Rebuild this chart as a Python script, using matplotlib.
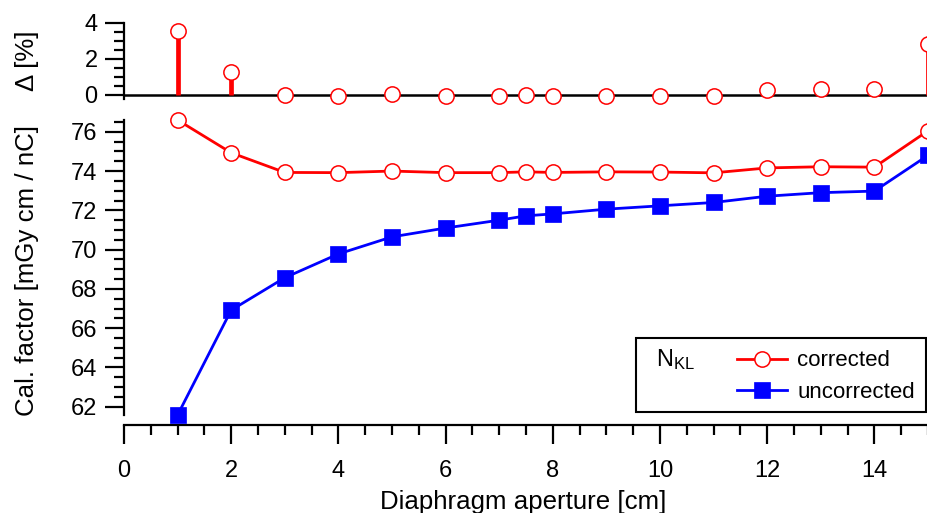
import matplotlib
matplotlib.use("Agg")
import matplotlib.pyplot as plt
from matplotlib.lines import Line2D
from matplotlib.patches import Rectangle
from matplotlib.ticker import MultipleLocator

plt.rcParams['font.family'] = ['Liberation Sans', 'DejaVu Sans']
plt.rcParams['mathtext.default'] = 'regular'

# data
aperture = [1, 2, 3, 4, 5, 6, 7, 7.5, 8, 9, 10, 11, 12, 13, 14, 15]
corrected = [76.60, 74.93, 73.93, 73.92, 74.00, 73.92, 73.92, 73.96, 73.93,
             73.96, 73.95, 73.91, 74.16, 74.22, 74.20, 76.05]
uncorrected = [61.58, 66.92, 68.57, 69.78, 70.65, 71.10, 71.50, 71.72, 71.82,
               72.06, 72.23, 72.40, 72.72, 72.90, 72.98, 74.80]
delta = [3.55, 1.28, -0.02, -0.05, 0.03, -0.08, -0.05, 0.0, -0.04,
         -0.05, -0.03, -0.06, 0.26, 0.34, 0.34, 2.82]

TICK_FS = 17
LABEL_FS = 18.6
LEG_FS = 16
W, H = 928, 513

fig = plt.figure(figsize=(W / 100, H / 100), dpi=100)

def fx(px):
    return px / W

def fy(py):
    return 1 - py / H

# top panel: delta
ax_d = fig.add_axes([fx(124), fy(99.3), fx(928 - 124), (99.3 - 22.7) / H])
# bottom panel: calibration factor
ax = fig.add_axes([fx(124), fy(415), fx(928 - 124), (415 - 120) / H])

red = '#ff0000'
blue = '#0000ff'
LW = 2.0

ax_d.axhline(0, color='black', lw=1.8, zorder=1)
ax_d.vlines(aperture, 0, delta, color=red, lw=3.4, zorder=2)
ax_d.plot(aperture, delta, ls='none', marker='o', ms=11, mfc='white',
          mec=red, mew=1.1, clip_on=False, zorder=3)
ax_d.set_xlim(0, 15)
ax_d.set_ylim(-0.24, 4.0)
ax_d.yaxis.set_major_locator(MultipleLocator(2))
ax_d.yaxis.set_minor_locator(MultipleLocator(0.5))
for s in ['top', 'right', 'bottom']:
    ax_d.spines[s].set_visible(False)
ax_d.set_xticks([])

ax.plot(aperture, corrected, color=red, lw=LW, marker='o', ms=11,
        mfc='white', mec=red, mew=1.1, clip_on=False, zorder=3)
ax.plot(aperture, uncorrected, color=blue, lw=LW, marker='s', ms=11.5,
        mfc=blue, mec=blue, mew=0.5, clip_on=False, zorder=3)
ax.set_xlim(0, 15)
ax.set_ylim(min(uncorrected), max(corrected))
ax.xaxis.set_major_locator(MultipleLocator(2))
ax.xaxis.set_minor_locator(MultipleLocator(0.5))
ax.yaxis.set_major_locator(MultipleLocator(2))
ax.yaxis.set_minor_locator(MultipleLocator(0.5))
for s in ['top', 'right']:
    ax.spines[s].set_visible(False)
ax.spines['bottom'].set_position(('outward', 7.2))

for a in (ax, ax_d):
    for s in a.spines.values():
        s.set_linewidth(1.6)
    a.tick_params(which='both', direction='out', width=1.6, labelsize=TICK_FS)
    a.tick_params(which='major', length=13.5)
    a.tick_params(which='minor', length=7.5)
    a.tick_params(axis='y', which='major', pad=5.5)
    a.patch.set_visible(False)
ax.tick_params(axis='x', which='major', pad=12)

fig.text(fx(27), fy(61), 'Δ [%]', rotation=90, ha='center', va='center',
         fontsize=LABEL_FS)
fig.text(fx(27), fy(271), 'Cal. factor [mGy cm / nC]', rotation=90,
         ha='center', va='center', fontsize=LABEL_FS)
fig.text(fx(523), fy(509), 'Diaphragm aperture [cm]', ha='center',
         va='baseline', fontsize=LABEL_FS)

# legend box
fig.add_artist(Rectangle((fx(636), fy(411.7)), fx(926.5 - 636), (411.7 - 338) / H,
                         transform=fig.transFigure, fill=True, facecolor='white',
                         edgecolor='black', lw=1.5, zorder=5))
fig.text(fx(656), fy(360), 'N$_{KL}$', ha='left', va='center',
         fontsize=LEG_FS + 1, zorder=6)
handles = [Line2D([], [], color=red, lw=LW, marker='o', ms=11, mfc='white',
                  mec=red, mew=1.1),
           Line2D([], [], color=blue, lw=LW, marker='s', ms=11.5, mfc=blue,
                  mec=blue, mew=0.5)]
leg = fig.legend(handles, ['corrected', 'uncorrected'], loc='center left',
                 bbox_to_anchor=(fx(726), fy(376.5)), frameon=False,
                 borderpad=0, handlelength=2.25, handletextpad=0.45,
                 labelspacing=0.45, fontsize=LEG_FS)
leg.set_zorder(7)

fig.savefig('out.png', dpi=100)
